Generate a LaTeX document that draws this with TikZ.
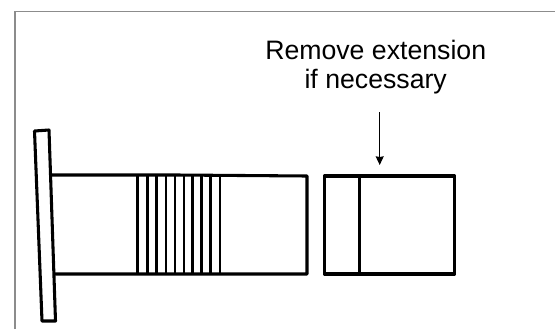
\documentclass[tikz,border=0pt]{standalone}
\usepackage{fontspec}
\setmainfont{Liberation Sans}
\usetikzlibrary{arrows.meta}
\tikzset{
  part/.style={draw=black,line width=2.3pt,line join=round},
  rib/.style={draw=black,line width=2.1pt},
  frameline/.style={draw=black!45,line width=0.9pt},
  callout/.style={draw=black,line width=0.9pt,-{Stealth[length=6.5pt,width=6pt,inset=0.5pt]}},
  label/.style={align=center,inner sep=0pt,font=\fontsize{20pt}{21.2pt}\selectfont}
}
\begin{document}
\begin{tikzpicture}[x=0.75pt,y=-0.75pt]
\useasboundingbox (0,0) rectangle (555,329);
\draw[frameline] (15,329) -- (15,11.5) -- (555,11.5);
% tube
\draw[part] (51,175) -- (177,175) -- (307,176) -- (307,274) -- (54,274);
% ribs
\foreach \x in {137.7,147.3,156.7,166,175,184,192.7,201.7,210.7,220}
  \draw[rib] (\x,175.5) -- (\x,274);
% plate
\draw[part,fill=white] (34.5,131) -- (49,130) -- (55.5,321) -- (42,321) -- cycle;
% extension
\draw[part] (324.3,176) rectangle (454.7,274);
\draw[rib] (359.7,176) -- (359.7,274);
\node[label,anchor=base] (txt) at (375.7,88) {Remove extension\\if necessary};
\coordinate (arrowstart) at (379.7,112);
\coordinate (arrowend) at (379.7,165);
\draw[callout] (arrowstart) -- (arrowend);
\end{tikzpicture}
\end{document}
